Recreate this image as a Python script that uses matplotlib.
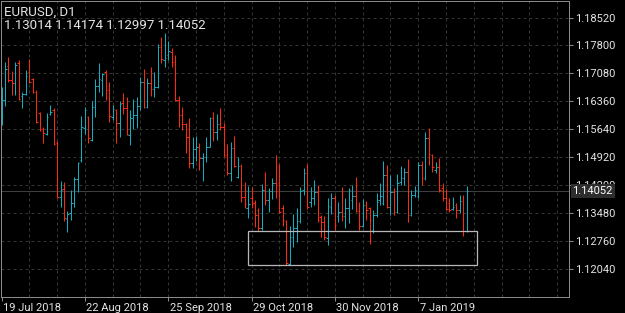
import matplotlib
matplotlib.use("Agg")
import matplotlib.pyplot as plt
import matplotlib.transforms as mtransforms
from matplotlib.patches import Rectangle
import pandas as pd

# ---------------- data ----------------
symbol = "EURUSD"
timeframe = "D1"
first_date = "2018-07-19"
holidays = ["2018-12-25", "2019-01-01"]

opens = [
    1.16005, 1.16392, 1.17269, 1.16908, 1.16830, 1.17347, 1.16495, 1.16547, 1.17114, 1.16926,
    1.16598, 1.16064, 1.15644, 1.15507, 1.16031, 1.16134, 1.15283, 1.13889, 1.14088, 1.13322,
    1.13469, 1.13735, 1.14346, 1.14844, 1.15670, 1.15946, 1.15360, 1.16204, 1.16753, 1.16908,
    1.17122, 1.16650, 1.15946, 1.16134, 1.15791, 1.16322, 1.16178, 1.15489, 1.15920, 1.16005,
    1.16237, 1.16864, 1.16204, 1.16830, 1.16676, 1.16720, 1.17759, 1.17424, 1.17553, 1.17638,
    1.17380, 1.16392, 1.16005, 1.15773, 1.15430, 1.14767, 1.15120, 1.15187, 1.14888, 1.14929,
    1.15187, 1.15920, 1.15574, 1.15773, 1.15703, 1.14973, 1.14501, 1.15146, 1.14413, 1.14689,
    1.13889, 1.13606, 1.13856, 1.13727, 1.13554, 1.13082, 1.14070, 1.13812, 1.14052, 1.14243,
    1.14243, 1.13598, 1.13278, 1.12161, 1.12865, 1.13082, 1.13278, 1.14070, 1.14516, 1.13760,
    1.13864, 1.14026, 1.13381, 1.13252, 1.12824, 1.13639, 1.13856, 1.13399, 1.13510, 1.13399,
    1.13598, 1.13812, 1.13915, 1.13536, 1.13141, 1.13683, 1.13598, 1.13038, 1.13425, 1.13812,
    1.13727, 1.14457, 1.13639, 1.14026, 1.13510, 1.14276, 1.14380, 1.14542, 1.13425, 1.13941,
    1.13923, 1.14715, 1.14387, 1.15419, 1.14973, 1.14586, 1.14671, 1.14122, 1.13856, 1.13735,
    1.13580, 1.13683, 1.13554, 1.13786, 1.13014]

highs = [
    1.16735, 1.17380, 1.17494, 1.17140, 1.17365, 1.17424, 1.16606, 1.17166, 1.17442, 1.16952,
    1.16650, 1.16090, 1.15688, 1.16064, 1.16263, 1.16178, 1.15334, 1.14310, 1.14284, 1.13536,
    1.14070, 1.14413, 1.14800, 1.15979, 1.16204, 1.15979, 1.16374, 1.16926, 1.17339, 1.17096,
    1.17166, 1.16864, 1.16263, 1.16152, 1.16374, 1.16580, 1.16477, 1.16134, 1.16418, 1.16477,
    1.16993, 1.17184, 1.16952, 1.17236, 1.17122, 1.17837, 1.18025, 1.18128, 1.17922, 1.17726,
    1.17553, 1.16495, 1.16219, 1.15791, 1.15920, 1.15430, 1.15463, 1.15275, 1.15017, 1.15430,
    1.15961, 1.16090, 1.16031, 1.16178, 1.15806, 1.15257, 1.15316, 1.15463, 1.14914, 1.14741,
    1.14284, 1.14173, 1.14155, 1.13812, 1.13598, 1.14225, 1.14542, 1.14114, 1.14372, 1.14973,
    1.14741, 1.13683, 1.13300, 1.13141, 1.13451, 1.13598, 1.14155, 1.14630, 1.14741, 1.14155,
    1.14328, 1.14199, 1.13425, 1.13399, 1.13856, 1.14000, 1.13941, 1.13768, 1.14155, 1.13856,
    1.14114, 1.14199, 1.14398, 1.13768, 1.13830, 1.13794, 1.13639, 1.13554, 1.14000, 1.14243,
    1.14826, 1.14715, 1.14457, 1.14114, 1.14475, 1.14697, 1.14645, 1.14870, 1.14070, 1.14181,
    1.14800, 1.14818, 1.15559, 1.15662, 1.14999, 1.14800, 1.14888, 1.14243, 1.14096, 1.13871,
    1.13897, 1.13727, 1.13941, 1.13941, 1.14174]

lows = [
    1.15747, 1.16245, 1.16864, 1.16521, 1.16521, 1.16392, 1.16193, 1.16521, 1.16823, 1.16565,
    1.15806, 1.15600, 1.15275, 1.15489, 1.16005, 1.15231, 1.13856, 1.13639, 1.13278, 1.12994,
    1.13296, 1.13639, 1.14026, 1.14800, 1.15515, 1.15275, 1.15342, 1.15946, 1.16606, 1.16495,
    1.16392, 1.15832, 1.15876, 1.15290, 1.15430, 1.16031, 1.15489, 1.15231, 1.15636, 1.15662,
    1.16134, 1.16178, 1.16178, 1.16495, 1.16477, 1.16694, 1.17339, 1.17236, 1.17424, 1.17251,
    1.16374, 1.15688, 1.15618, 1.15032, 1.14630, 1.14630, 1.14826, 1.14586, 1.14310, 1.14800,
    1.15172, 1.15342, 1.15360, 1.15618, 1.14929, 1.14457, 1.14310, 1.14671, 1.14372, 1.13768,
    1.13598, 1.13340, 1.13598, 1.13108, 1.13020, 1.13030, 1.13683, 1.13510, 1.13830, 1.13856,
    1.13484, 1.13141, 1.12135, 1.12135, 1.12607, 1.12736, 1.13211, 1.13941, 1.13572, 1.13639,
    1.13683, 1.13252, 1.12865, 1.12780, 1.12651, 1.13451, 1.13038, 1.13252, 1.13278, 1.13082,
    1.13211, 1.13572, 1.13510, 1.13038, 1.13108, 1.13296, 1.12677, 1.12968, 1.13381, 1.13683,
    1.13683, 1.13598, 1.13425, 1.13425, 1.13469, 1.14199, 1.14199, 1.13237, 1.13400, 1.13900,
    1.13856, 1.14199, 1.14328, 1.14715, 1.14534, 1.14501, 1.14026, 1.13786, 1.13554, 1.13510,
    1.13554, 1.13340, 1.13469, 1.12890, 1.12997]

closes = [
    1.16392, 1.17184, 1.16908, 1.16823, 1.17295, 1.16410, 1.16547, 1.17011, 1.16864, 1.16606,
    1.15824, 1.15636, 1.15533, 1.15961, 1.16090, 1.15257, 1.13897, 1.14070, 1.13340, 1.13451,
    1.13727, 1.14346, 1.14774, 1.15688, 1.16134, 1.15404, 1.16204, 1.16753, 1.16926, 1.17063,
    1.16650, 1.15979, 1.16152, 1.15791, 1.16289, 1.16178, 1.15507, 1.15920, 1.16005, 1.16237,
    1.16864, 1.16204, 1.16823, 1.16668, 1.16720, 1.17752, 1.17450, 1.17476, 1.17656, 1.17380,
    1.16392, 1.16005, 1.15773, 1.15430, 1.14759, 1.15120, 1.15187, 1.14888, 1.14929, 1.15187,
    1.15920, 1.15574, 1.15773, 1.15703, 1.14973, 1.14501, 1.15146, 1.14689, 1.14689, 1.13897,
    1.13709, 1.13709, 1.13709, 1.13425, 1.13082, 1.14070, 1.13812, 1.14052, 1.14243, 1.14199,
    1.13510, 1.13296, 1.12187, 1.12865, 1.13082, 1.13278, 1.14052, 1.14516, 1.13639, 1.13864,
    1.14026, 1.13296, 1.13252, 1.12865, 1.13657, 1.13856, 1.13167, 1.13510, 1.13399, 1.13598,
    1.14070, 1.13915, 1.13536, 1.13141, 1.13683, 1.13554, 1.13296, 1.13425, 1.13768, 1.13915,
    1.14457, 1.13639, 1.14026, 1.13510, 1.14243, 1.14380, 1.14542, 1.13425, 1.13941, 1.14070,
    1.14715, 1.14387, 1.15419, 1.14991, 1.14663, 1.14663, 1.14070, 1.13856, 1.13580, 1.13554,
    1.13639, 1.13554, 1.13786, 1.13014, 1.14052]

price_ticks = [1.12040, 1.12760, 1.13480, 1.14200, 1.14920, 1.15640, 1.16360, 1.17080, 1.17800, 1.18520]
date_label_step = 24          # one date label every 24 bars
grid_step = 8                 # one vertical grid line every 8 bars

# rectangle drawing object (bar index / price)
rect_bars = [70.9, 136.9]
rect_prices = [1.12127, 1.13004]

# ---------------- derived ----------------
n = len(closes)
dates = pd.bdate_range(first_date, periods=n + 10)
dates = [d for d in dates if d.strftime("%Y-%m-%d") not in holidays][:n]
idx = list(range(n))

UP = "#12aebf"
DN = "#ff2a0a"
BG = "#000000"
GRID = "#343434"
FRAME = "#8a8a8a"
TXT = "#e4e4e4"
PX = 0.72  # one pixel in points at dpi 100
FAM = ["Roboto", "DejaVu Sans"]

fig = plt.figure(figsize=(6.25, 3.13), dpi=100, facecolor=BG)
W, H = 625, 313
ax = fig.add_axes([1 / W, (H - 296.5) / H, 568 / W, 295.5 / H], facecolor=BG)

bar_step = 3.4724
ax.set_xlim(-0.15, -0.15 + 568 / bar_step)
ax.set_ylim(1.11322, 1.18946)

# grid
for g in range(grid_step, int(ax.get_xlim()[1]) + 1, grid_step):
    ax.axvline(g, color=GRID, lw=PX, ls=(0, (3, 3)), zorder=0)
for p in price_ticks:
    ax.axhline(p, color=GRID, lw=PX, ls=(0, (3, 3)), zorder=0)

# current price line
ax.axhline(closes[-1], color="#3f3f3f", lw=PX, zorder=1)

# OHLC bars
cols = [UP if c >= o else DN for o, c in zip(opens, closes)]
ax.vlines(idx, lows, highs, colors=cols, lw=PX, zorder=3)
ax.hlines(opens, [i - 0.45 for i in idx], idx, colors=cols, lw=PX, zorder=3)
ax.hlines(closes, idx, [i + 0.45 for i in idx], colors=cols, lw=PX, zorder=3)

# rectangle object
ax.add_patch(Rectangle((rect_bars[0], rect_prices[0]), rect_bars[1] - rect_bars[0],
                       rect_prices[1] - rect_prices[0], fill=False,
                       edgecolor="#b8b8b8", lw=0.9, zorder=4))

# axes styling
for s in ["left", "top", "right", "bottom"]:
    ax.spines[s].set_color(FRAME)
    ax.spines[s].set_linewidth(PX)

ax.yaxis.tick_right()
ax.set_yticks(price_ticks)
ax.set_yticklabels([f"{p:.5f}" for p in price_ticks])
ax.tick_params(axis="y", length=3, width=PX, color=FRAME, labelcolor=TXT,
               labelsize=8, pad=1)

lab_idx = list(range(0, n, date_label_step))
ax.set_xticks(lab_idx)
ax.set_xticklabels([f"{dates[i].day} {dates[i].strftime('%b %Y')}" for i in lab_idx])
ax.tick_params(axis="x", length=3, width=PX, color=FRAME, labelcolor=TXT,
               labelsize=8, pad=1.5)
off = mtransforms.ScaledTranslation(1.5 / 100, 0, fig.dpi_scale_trans)
for lab in ax.get_xticklabels():
    lab.set_horizontalalignment("left")
    lab.set_transform(lab.get_transform() + off)

for lab in ax.get_xticklabels() + ax.get_yticklabels():
    lab.set_fontfamily(FAM)

# header
fig.text(4 / W, 1 - 12.5 / H, f"{symbol}, {timeframe}", color=TXT, fontsize=9.5,
         family=FAM, va="center", ha="left")
fig.text(4 / W, 1 - 25.5 / H,
         f"{opens[-1]:.5f} {highs[-1]:.5f} {lows[-1]:.5f} {closes[-1]:.5f}",
         color=TXT, fontsize=9.5, family=FAM, va="center", ha="left")

# last price label on the price scale
trans = mtransforms.blended_transform_factory(ax.transAxes, ax.transData)
ax.text(1.0 + 3.5 / 568, closes[-1], f"{closes[-1]:.5f}", transform=trans,
        color="#ffffff", fontsize=8, family=FAM,
        va="center", ha="left", clip_on=False, zorder=10,
        bbox=dict(boxstyle="square,pad=0.18", facecolor="#2e2e2e", edgecolor="none"))

fig.savefig("out.png", dpi=100, facecolor=BG)
